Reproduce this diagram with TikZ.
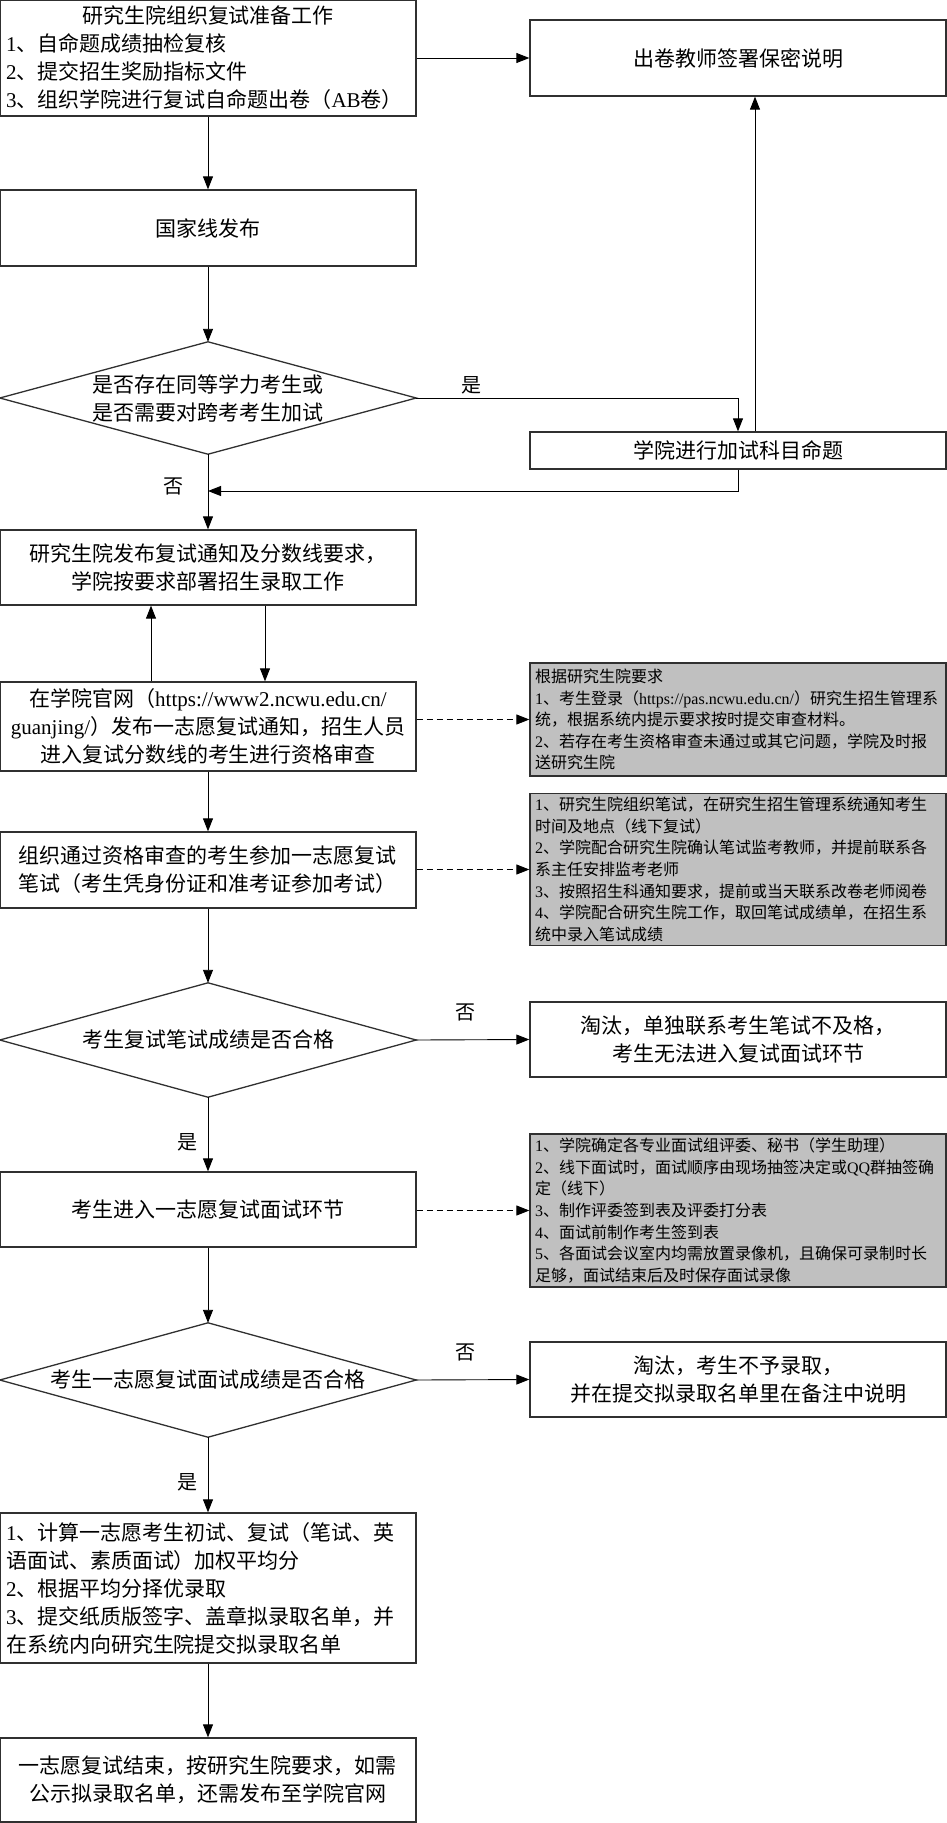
\documentclass[tikz,border=0pt]{standalone}
\usepackage{fontspec}
\setmainfont{Noto Sans CJK SC}
\newfontfamily\lat{Liberation Serif}
\usetikzlibrary{arrows.meta}
\definecolor{bord}{HTML}{303030}
\definecolor{grayfill}{HTML}{C0C0C0}
\begin{document}
\begin{tikzpicture}[x=1pt,y=-1pt,
  box/.style={draw=bord, line width=1.3pt, inner sep=6pt, text width=404pt, align=center, font=\fontsize{21}{28}\selectfont},
  note/.style={draw=bord, line width=1.3pt, fill=grayfill, inner xsep=5pt, inner ysep=4pt, text width=406pt, align=left, font=\fontsize{16}{21.6}\selectfont},
  dia/.style={inner sep=0pt, minimum width=416pt, minimum height=112pt, align=center, font=\fontsize{21}{28}\selectfont},
  diaedge/.style={draw=bord, line width=1.3pt},
  arr/.style={draw=black, line width=0.9pt, -{Triangle[length=13pt,width=10pt]}},
  dasharr/.style={arr, dash pattern=on 6pt off 4pt},
  lab/.style={font=\fontsize{20}{24}\selectfont, inner sep=0pt}
]
\useasboundingbox (0,0) rectangle (946,1823);

% left column
\node[box, align=left, minimum height=114pt] (A) at (208,58)
 {\makebox[404pt][c]{研究生院组织复试准备工作}\\{\lat 1}、自命题成绩抽检复核\\{\lat 2}、提交招生奖励指标文件\\{\lat 3}、组织学院进行复试自命题出卷（{\lat AB}卷）};
\node[box, minimum height=76pt] (C) at (208,228) {国家线发布};
\node[dia] (D1) at (208,398) {是否存在同等学力考生或\\是否需要对跨考考生加试};
\draw[diaedge] (D1.west) -- (D1.north) -- (D1.east) -- (D1.south) -- cycle;
\node[box, minimum height=75pt] (F) at (208,567.5) {研究生院发布复试通知及分数线要求，\\学院按要求部署招生录取工作};
\node[box, minimum height=89pt] (G) at (208,726.5) {在学院官网（{\lat https://www2.ncwu.edu.cn/}\\{\lat guanjing/}）发布一志愿复试通知，招生人员\\进入复试分数线的考生进行资格审查};
\node[box, minimum height=76pt] (I) at (208,870) {组织通过资格审查的考生参加一志愿复试\\笔试（考生凭身份证和准考证参加考试）};
\node[dia, minimum height=114pt] (K) at (208,1040) {考生复试笔试成绩是否合格};
\draw[diaedge] (K.west) -- (K.north) -- (K.east) -- (K.south) -- cycle;
\node[box, minimum height=75pt] (M) at (208,1209.5) {考生进入一志愿复试面试环节};
\node[dia, minimum height=114pt] (O) at (208,1380) {考生一志愿复试面试成绩是否合格};
\draw[diaedge] (O.west) -- (O.north) -- (O.east) -- (O.south) -- cycle;
\node[box, align=left, minimum height=150pt] (Q) at (208,1588)
 {{\lat 1}、计算一志愿考生初试、复试（笔试、英\\语面试、素质面试）加权平均分\\{\lat 2}、根据平均分择优录取\\{\lat 3}、提交纸质版签字、盖章拟录取名单，并\\在系统内向研究生院提交拟录取名单};
\node[box, minimum height=84pt] (R) at (208,1780) {一志愿复试结束，按研究生院要求，如需\\公示拟录取名单，还需发布至学院官网};

% right column
\node[box, minimum height=76pt] (B) at (738,58) {出卷教师签署保密说明};
\node[box, minimum height=37pt, inner ysep=0pt] (E) at (738,450.5) {学院进行加试科目命题};
\node[note, minimum height=113pt] (H) at (738,719.5)
 {根据研究生院要求\\{\lat 1}、考生登录（{\lat https://pas.ncwu.edu.cn/}）研究生招生管理系\\统，根据系统内提示要求按时提交审查材料。\\{\lat 2}、若存在考生资格审查未通过或其它问题，学院及时报\\送研究生院};
\node[note, minimum height=151pt] (J) at (738,869.5)
 {{\lat 1}、研究生院组织笔试，在研究生招生管理系统通知考生\\时间及地点（线下复试）\\{\lat 2}、学院配合研究生院确认笔试监考教师，并提前联系各\\系主任安排监考老师\\{\lat 3}、按照招生科通知要求，提前或当天联系改卷老师阅卷\\{\lat 4}、学院配合研究生院工作，取回笔试成绩单，在招生系\\统中录入笔试成绩};
\node[box, minimum height=75pt] (L) at (738,1039.5) {淘汰，单独联系考生笔试不及格，\\考生无法进入复试面试环节};
\node[note, minimum height=151pt] (N) at (738,1210.5)
 {{\lat 1}、学院确定各专业面试组评委、秘书（学生助理）\\{\lat 2}、线下面试时，面试顺序由现场抽签决定或{\lat QQ}群抽签确\\定（线下）\\{\lat 3}、制作评委签到表及评委打分表\\{\lat 4}、面试前制作考生签到表\\{\lat 5}、各面试会议室内均需放置录像机，且确保可录制时长\\足够，面试结束后及时保存面试录像};
\node[box, minimum height=75pt] (P) at (738,1379.5) {淘汰，考生不予录取，\\并在提交拟录取名单里在备注中说明};

\coordinate (j1) at (208,491);

% connectors
\draw[arr] (A.east) -- (B.west);
\draw[arr] (A.south) -- (C.north);
\draw[arr] (C.south) -- (D1.north);
\draw[arr] (D1.east) -| (E.north);
\draw[arr] ([xshift=17pt]E.north) -- ([xshift=17pt]B.south);
\draw[arr] (E.south) |- (j1);
\draw[arr] (D1.south) -- (F.north);
\draw[arr] ([xshift=57pt]F.south) -- ([xshift=57pt]G.north);
\draw[arr] ([xshift=-57pt]G.north) -- ([xshift=-57pt]F.south);
\draw[dasharr] (G.east |- H.west) -- (H.west);
\draw[arr] (G.south) -- (I.north);
\draw[dasharr] (I.east |- J.west) -- (J.west);
\draw[arr] (I.south) -- (K.north);
\draw[arr] (K.east) -- (L.west);
\draw[arr] (K.south) -- (M.north);
\draw[dasharr] (M.east |- N.west) -- (N.west);
\draw[arr] (M.south) -- (O.north);
\draw[arr] (O.east) -- (P.west);
\draw[arr] (O.south) -- (Q.north);
\draw[arr] (Q.south) -- (R.north);

% labels
\node[lab] (l1) at (471,385) {是};
\node[lab] (l2) at (173,486) {否};
\node[lab] (l3) at (465,1012) {否};
\node[lab] (l4) at (187,1142) {是};
\node[lab] (l5) at (465,1352) {否};
\node[lab] (l6) at (187,1482) {是};
\end{tikzpicture}
\end{document}
